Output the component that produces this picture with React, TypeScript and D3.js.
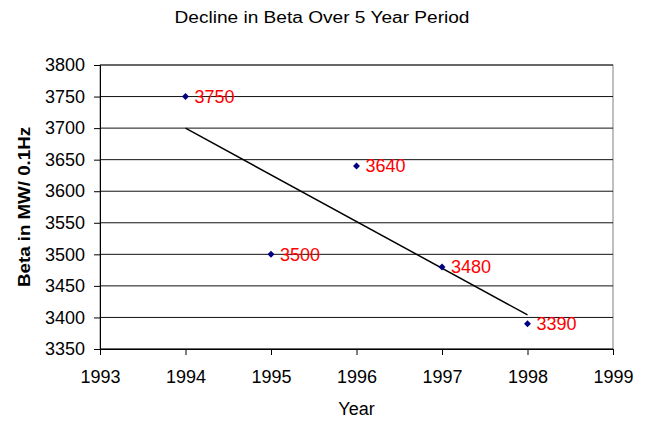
import React, { useRef, useEffect } from 'react';
import * as d3 from 'd3';

const years = [1994, 1995, 1996, 1997, 1998];
const beta = [3750, 3500, 3640, 3480, 3390];
const xTicks = [1993, 1994, 1995, 1996, 1997, 1998, 1999];
const yTicks = [3350, 3400, 3450, 3500, 3550, 3600, 3650, 3700, 3750, 3800];

const W = 649;
const H = 421;
const margin = { top: 65, right: 36, bottom: 72, left: 100 };
const font = 'Liberation Sans, Arial, sans-serif';

const App: React.FC = () => {
    const ref = useRef<SVGSVGElement | null>(null);

    useEffect(() => {
        const svg = d3.select(ref.current);
        svg.selectAll('*').remove();

        const innerW = W - margin.left - margin.right;
        const innerH = H - margin.top - margin.bottom;

        const x = d3.scaleLinear().domain([1993, 1999]).range([0, innerW]);
        const y = d3.scaleLinear().domain([3350, 3800]).range([innerH, 0]);

        const g = svg.append('g').attr('transform', `translate(${margin.left},${margin.top})`);

        // plot frame + gridlines
        g.append('rect')
            .attr('width', innerW).attr('height', innerH)
            .attr('fill', 'none').attr('stroke', '#808080');

        g.selectAll('line.grid').data(yTicks).enter().append('line')
            .attr('class', 'grid')
            .attr('x1', 0).attr('x2', innerW)
            .attr('y1', d => y(d)).attr('y2', d => y(d))
            .attr('stroke', '#111').attr('stroke-width', 1);

        const yAxis = g.append('g')
            .call(d3.axisLeft(y).tickValues(yTicks).tickSize(6).tickPadding(9).tickFormat(d3.format('d')));
        const xAxis = g.append('g')
            .attr('transform', `translate(0,${innerH})`)
            .call(d3.axisBottom(x).tickValues(xTicks).tickSize(6).tickPadding(15).tickFormat(d3.format('d')));

        [yAxis, xAxis].forEach(a => {
            a.select('.domain').attr('stroke', '#000');
            a.selectAll('.tick line').attr('stroke', '#000');
            a.selectAll('text').attr('font-family', font).attr('font-size', 18).attr('fill', '#000');
        });

        // linear trendline (least squares)
        const mx = d3.mean(years) as number;
        const my = d3.mean(beta) as number;
        const slope = d3.sum(years, (v, i) => (v - mx) * (beta[i] - my)) / d3.sum(years, v => (v - mx) ** 2);
        const fit = (v: number) => my + slope * (v - mx);
        const x0 = years[0], x1 = years[years.length - 1];
        g.append('line')
            .attr('x1', x(x0)).attr('y1', y(fit(x0)))
            .attr('x2', x(x1)).attr('y2', y(fit(x1)))
            .attr('stroke', '#000').attr('stroke-width', 1.5);

        const pts = years.map((v, i) => ({ yr: v, b: beta[i] }));

        g.selectAll('path.pt').data(pts).enter().append('path')
            .attr('class', 'pt')
            .attr('d', d3.symbol().type(d3.symbolSquare).size(24)())
            .attr('transform', d => `translate(${x(d.yr)},${y(d.b)}) rotate(45)`)
            .attr('fill', '#000080');

        g.selectAll('text.lbl').data(pts).enter().append('text')
            .attr('class', 'lbl')
            .attr('x', d => x(d.yr) + 9)
            .attr('y', d => y(d.b))
            .attr('dy', '0.36em')
            .attr('font-family', font).attr('font-size', 18)
            .attr('fill', '#ff0000')
            .text(d => d.b);

        svg.append('text')
            .attr('x', 322).attr('y', 23)
            .attr('text-anchor', 'middle')
            .attr('font-family', font).attr('font-size', 16)
            .attr('textLength', 295).attr('lengthAdjust', 'spacingAndGlyphs')
            .text('Decline in Beta Over 5 Year Period');

        svg.append('text')
            .attr('x', margin.left + innerW / 2).attr('y', 415)
            .attr('text-anchor', 'middle')
            .attr('font-family', font).attr('font-size', 18)
            .text('Year');

        svg.append('text')
            .attr('transform', `translate(30,${margin.top + innerH / 2}) rotate(-90)`)
            .attr('text-anchor', 'middle')
            .attr('font-family', font).attr('font-size', 16).attr('font-weight', 'bold')
            .attr('textLength', 160).attr('lengthAdjust', 'spacingAndGlyphs')
            .text('Beta in MW/ 0.1Hz');
    }, []);

    return (
        <svg ref={ref} width={W} height={H} style={{ display: 'block', position: 'absolute', left: 0, top: 0, background: '#fff' }} />
    );
};

export default App;
